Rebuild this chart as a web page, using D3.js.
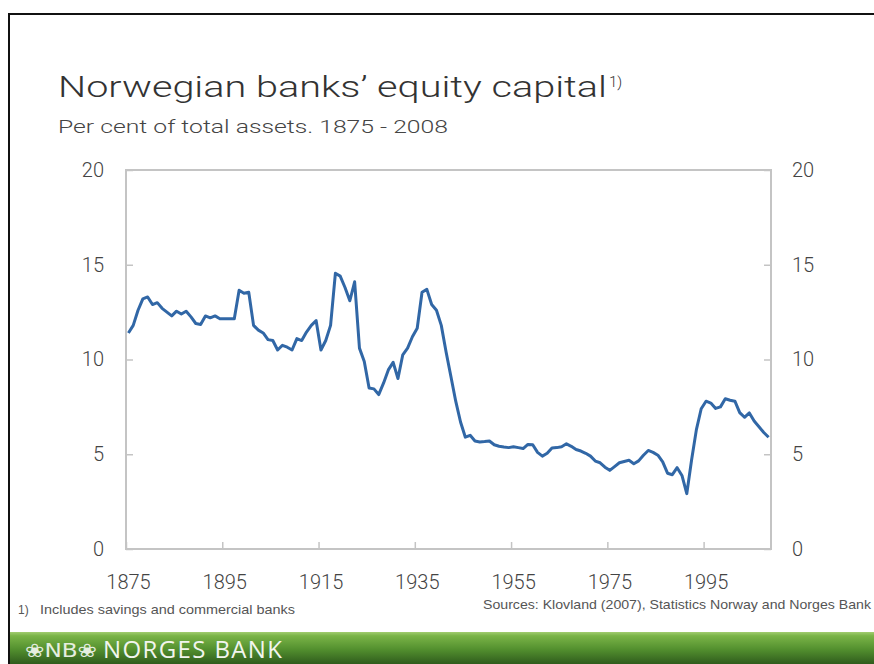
<!DOCTYPE html>
<html>
<head>
<meta charset="utf-8">
<script src="https://cdn.jsdelivr.net/npm/d3@7"></script>
<style>
  body { margin: 0; background: #fff; }
  svg { display: block; }
  .tick text { font-family: Roboto, "Liberation Sans", Arial, sans-serif; font-weight: 300; font-size: 20px; fill: #444; }
  .tick line { stroke: #c4c4c4; stroke-width: 1.5; }
</style>
</head>
<body>
<svg id="chart"></svg>
<script>
// Data (per cent of total assets)
var startYear = 1875;
var equity = [
  11.4, 11.8, 12.6, 13.2, 13.3, 12.9, 13.0, 12.7, 12.5, 12.3,      // 1875-1884
  12.55, 12.4, 12.55, 12.25, 11.9, 11.85, 12.3, 12.2, 12.3, 12.15, // 1885-1894
  12.15, 12.15, 12.15, 13.65, 13.5, 13.55, 11.8, 11.55, 11.4, 11.05, // 1895-1904
  11.0, 10.5, 10.75, 10.65, 10.5, 11.1, 11.0, 11.45, 11.8, 12.05,  // 1905-1914
  10.5, 11.0, 11.8, 14.55, 14.4, 13.8, 13.1, 14.1, 10.6, 9.9,      // 1915-1924
  8.5, 8.45, 8.15, 8.75, 9.45, 9.85, 9.0, 10.25, 10.6, 11.2,       // 1925-1934
  11.65, 13.55, 13.7, 12.9, 12.6, 11.8, 10.4, 9.1, 7.8, 6.7,       // 1935-1944
  5.9, 6.0, 5.7, 5.65, 5.67, 5.7, 5.5, 5.42, 5.38, 5.35,           // 1945-1954
  5.4, 5.35, 5.3, 5.52, 5.5, 5.1, 4.9, 5.05, 5.33, 5.35,           // 1955-1964
  5.4, 5.55, 5.42, 5.25, 5.17, 5.05, 4.9, 4.64, 4.55, 4.32,        // 1965-1974
  4.15, 4.35, 4.55, 4.62, 4.68, 4.5, 4.65, 4.95, 5.2, 5.1,         // 1975-1984
  4.95, 4.6, 4.0, 3.92, 4.29, 3.88, 2.92, 4.7, 6.3, 7.4,           // 1985-1994
  7.8, 7.7, 7.42, 7.5, 7.93, 7.85, 7.8, 7.2, 6.95, 7.18,           // 1995-2004
  6.75, 6.45, 6.15, 5.9                                            // 2005-2008
];
var xTicks = [1875, 1895, 1915, 1935, 1955, 1975, 1995];
var yTicks = [0, 5, 10, 15, 20];

var titleText = "Norwegian banks\u2019 equity capital";
var subtitleText = "Per cent of total assets. 1875 - 2008";
var footnoteText = "Includes savings and commercial banks";
var sourceText = "Sources: Klovland (2007), Statistics Norway and Norges Bank";

var W = 874, H = 664;
var plot = { left: 126, right: 771, top: 170, bottom: 549 };

var data = equity.map(function(v, i) {
  return { year: startYear + i, value: v };
});

var svg = d3.select("#chart").attr("width", W).attr("height", H);

// Scales (one slot per year, points in the middle of the slot)
var xScale = d3.scaleLinear()
  .domain([startYear, startYear + equity.length])
  .range([plot.left, plot.right]);
var yScale = d3.scaleLinear()
  .domain([0, 20])
  .range([plot.bottom, plot.top]);

// Outer frame (black on top and left)
svg.append("path")
  .attr("d", "M9," + H + "V14H" + W)
  .attr("fill", "none")
  .attr("stroke", "#111")
  .attr("stroke-width", 2);

// Titles
var title = svg.append("text")
  .attr("x", 58).attr("y", 97)
  .style("font-family", "Roboto, 'Liberation Sans', sans-serif")
  .style("font-weight", 300)
  .style("font-size", "30px")
  .style("fill", "#333");
title.append("tspan")
  .attr("textLength", 549)
  .attr("lengthAdjust", "spacingAndGlyphs")
  .text(titleText);
title.append("tspan")
  .attr("x", 609).attr("y", 87)
  .style("font-size", "15px")
  .text("1)");

svg.append("text")
  .attr("x", 58).attr("y", 133)
  .attr("textLength", 390)
  .attr("lengthAdjust", "spacingAndGlyphs")
  .style("font-family", "Roboto, 'Liberation Sans', sans-serif")
  .style("font-weight", 300)
  .style("font-size", "18px")
  .style("fill", "#444")
  .text(subtitleText);

// Axes
var gx = svg.append("g")
  .attr("transform", "translate(0," + plot.bottom + ")")
  .call(d3.axisBottom(xScale).tickValues(xTicks).tickFormat(d3.format("d"))
    .tickSize(-7).tickSizeOuter(0).tickPadding(26));
gx.selectAll(".tick text").attr("dx", "2px");

svg.append("g")
  .attr("transform", "translate(" + plot.left + ",0)")
  .call(d3.axisLeft(yScale).tickValues(yTicks)
    .tickSize(-7).tickSizeOuter(0).tickPadding(22));

svg.append("g")
  .attr("transform", "translate(" + plot.right + ",0)")
  .call(d3.axisRight(yScale).tickValues(yTicks)
    .tickSize(-7).tickSizeOuter(0).tickPadding(21));

svg.selectAll(".domain").remove();

// Plot frame
svg.append("rect")
  .attr("x", plot.left).attr("y", plot.top)
  .attr("width", plot.right - plot.left)
  .attr("height", plot.bottom - plot.top)
  .attr("fill", "none")
  .attr("stroke", "#c4c4c4")
  .attr("stroke-width", 2);

// Line
var line = d3.line()
  .x(function(d) { return xScale(d.year + 0.5); })
  .y(function(d) { return yScale(d.value); });

svg.append("path")
  .datum(data)
  .attr("fill", "none")
  .attr("stroke", "#3167a6")
  .attr("stroke-width", 3)
  .attr("stroke-linejoin", "round")
  .attr("d", line);

// Footnote and sources
var small = { family: "'Liberation Sans', Arial, sans-serif", size: "13.5px", fill: "#555" };
svg.append("text")
  .attr("x", 18).attr("y", 614)
  .style("font-family", small.family).style("font-size", "12px").style("fill", small.fill)
  .text("1)");
svg.append("text")
  .attr("x", 40).attr("y", 614)
  .attr("textLength", 255)
  .attr("lengthAdjust", "spacingAndGlyphs")
  .style("font-family", small.family).style("font-size", small.size).style("fill", small.fill)
  .text(footnoteText);
svg.append("text")
  .attr("x", 483).attr("y", 609)
  .attr("textLength", 388)
  .attr("lengthAdjust", "spacingAndGlyphs")
  .style("font-family", small.family).style("font-size", small.size).style("fill", small.fill)
  .text(sourceText);

// Green Norges Bank band
var grad = svg.append("defs").append("linearGradient")
  .attr("id", "band").attr("x1", 0).attr("y1", 0).attr("x2", 0).attr("y2", 1);
grad.append("stop").attr("offset", "0%").attr("stop-color", "#a2cd70");
grad.append("stop").attr("offset", "12%").attr("stop-color", "#7ab447");
grad.append("stop").attr("offset", "55%").attr("stop-color", "#528f2e");
grad.append("stop").attr("offset", "100%").attr("stop-color", "#2f5c1d");

svg.append("rect")
  .attr("x", 10).attr("y", 632)
  .attr("width", W - 10).attr("height", H - 632)
  .attr("fill", "url(#band)");

svg.append("text")
  .attr("x", 25).attr("y", 657)
  .attr("textLength", 72)
  .attr("lengthAdjust", "spacingAndGlyphs")
  .style("font-family", "'DejaVu Sans', sans-serif")
  .style("font-size", "19px")
  .style("fill", "#e6eee0")
  .text("\u2740NB\u2740");

svg.append("text")
  .attr("x", 103).attr("y", 658)
  .attr("textLength", 179)
  .style("font-family", "'Open Sans', 'DejaVu Sans', sans-serif")
  .style("font-size", "24px")
  .style("fill", "#f2f5ee")
  .text("NORGES BANK");
</script>
</body>
</html>
